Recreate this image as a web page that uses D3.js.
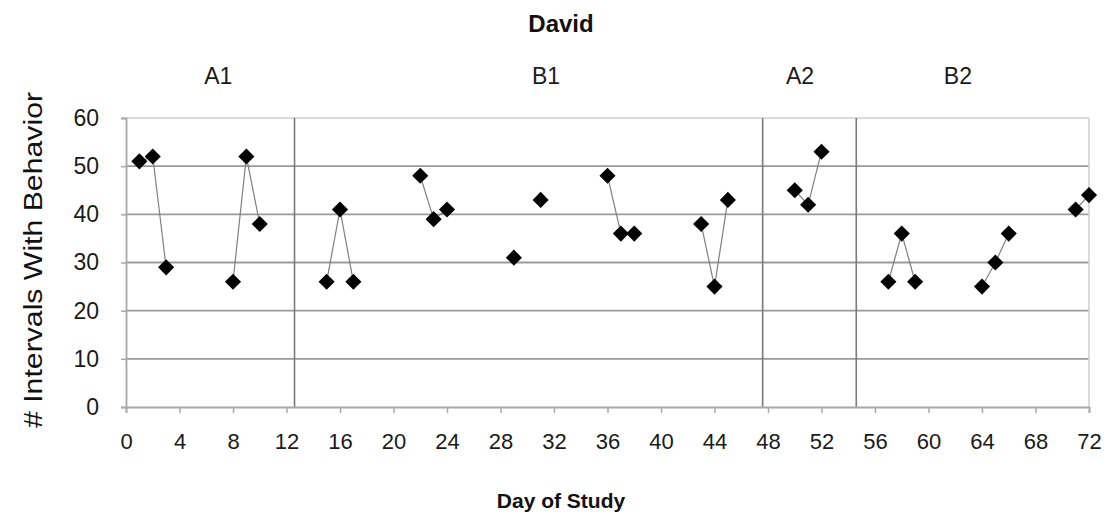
<!DOCTYPE html>
<html>
<head>
<meta charset="utf-8">
<script src="https://cdn.jsdelivr.net/npm/d3@7"></script>
<style>
  html, body { margin: 0; padding: 0; background: #fff; }
  svg { display: block; font-family: "Liberation Sans", Arial, sans-serif; }
</style>
</head>
<body>
<svg id="chart" width="1108" height="523"></svg>
<script>
// Observation days and the number of intervals with the behaviour on each day
const days   = [1, 2, 3, 8, 9, 10, 15, 16, 17, 22, 23, 24, 29, 31, 36, 37, 38, 43, 44, 45, 50, 51, 52, 57, 58, 59, 64, 65, 66, 71, 72];
const counts = [51, 52, 29, 26, 52, 38, 26, 41, 26, 48, 39, 41, 31, 43, 48, 36, 36, 38, 25, 43, 45, 42, 53, 26, 36, 26, 25, 30, 36, 41, 44];

// Phase change lines (between sessions) and phase names
const phaseChanges = [12.6, 47.6, 54.6];
const phaseNames   = ["A1", "B1", "A2", "B2"];
const phaseLabelDays = [6.9, 31.4, 50.4, 62.2];

const xTicks = d3.range(0, 73, 4);
const yTicks = d3.range(0, 61, 10);

const svg = d3.select("#chart");
const margin = { left: 126, right: 19, top: 118, bottom: 116 };
const W = 1108, H = 523;

const x = d3.scaleLinear().domain([0, 72]).range([margin.left, W - margin.right]);
const y = d3.scaleLinear().domain([0, 60]).range([H - margin.bottom, margin.top]);

// Horizontal gridlines
svg.append("g")
  .selectAll("line")
  .data(yTicks.filter(d => d > 0))
  .join("line")
  .attr("x1", x(0)).attr("x2", x(72))
  .attr("y1", d => y(d)).attr("y2", d => y(d))
  .attr("stroke", d => d === 60 ? "#cfcfcf" : "#9a9a9a")
  .attr("stroke-width", d => d === 60 ? 1.5 : 1.8);

// Right border of the plot area
svg.append("line")
  .attr("x1", x(72)).attr("x2", x(72))
  .attr("y1", y(60)).attr("y2", y(0))
  .attr("stroke", "#cfcfcf").attr("stroke-width", 1.5);

// Phase change lines
svg.append("g")
  .selectAll("line")
  .data(phaseChanges)
  .join("line")
  .attr("x1", d => x(d)).attr("x2", d => x(d))
  .attr("y1", y(60)).attr("y2", y(0))
  .attr("stroke", "#7a7a7a").attr("stroke-width", 1.6);

// Axes
const xAxis = svg.append("g")
  .attr("transform", `translate(0,${y(0)})`)
  .call(d3.axisBottom(x).tickValues(xTicks).tickSize(6).tickPadding(20).tickFormat(d3.format("d")));
xAxis.select(".domain").attr("stroke", "#a8a8a8").attr("stroke-width", 1.8);
xAxis.selectAll(".tick line").attr("stroke", "#a8a8a8").attr("stroke-width", 1.5);
xAxis.selectAll(".tick text")
  .attr("font-size", 22).attr("fill", "#1a1a1a")
  .attr("font-family", "'Liberation Sans', Arial, sans-serif");

const yAxis = svg.append("g")
  .attr("transform", `translate(${x(0)},0)`)
  .call(d3.axisLeft(y).tickValues(yTicks).tickSize(5).tickPadding(22).tickFormat(d3.format("d")));
yAxis.select(".domain").attr("stroke", "#a8a8a8").attr("stroke-width", 1.8);
yAxis.selectAll(".tick line").attr("stroke", "#a8a8a8").attr("stroke-width", 1.5);
yAxis.selectAll(".tick text")
  .attr("font-size", 23).attr("fill", "#1a1a1a")
  .attr("font-family", "'Liberation Sans', Arial, sans-serif");

// Connect consecutive days that fall within the same phase
const pts = days.map((d, i) => ({ day: d, count: counts[i] }));
const phaseOf = d => phaseChanges.filter(p => d > p).length;
const segments = [];
for (let i = 1; i < pts.length; i++) {
  const a = pts[i - 1], b = pts[i];
  if (b.day - a.day === 1 && phaseOf(a.day) === phaseOf(b.day)) segments.push([a, b]);
}
svg.append("g")
  .selectAll("line")
  .data(segments)
  .join("line")
  .attr("x1", d => x(d[0].day)).attr("y1", d => y(d[0].count))
  .attr("x2", d => x(d[1].day)).attr("y2", d => y(d[1].count))
  .attr("stroke", "#808080").attr("stroke-width", 1.2);

// Diamond markers
svg.append("g")
  .selectAll("path")
  .data(pts)
  .join("path")
  .attr("d", d3.symbol(d3.symbolSquare, 130))
  .attr("transform", d => `translate(${x(d.day)},${y(d.count)}) rotate(45)`)
  .attr("fill", "#000");

// Titles
svg.append("text")
  .attr("x", 561).attr("y", 32)
  .attr("text-anchor", "middle")
  .attr("font-size", 24).attr("font-weight", "bold").attr("fill", "#111")
  .text("David");

svg.append("g")
  .selectAll("text")
  .data(phaseNames)
  .join("text")
  .attr("x", (d, i) => x(phaseLabelDays[i]))
  .attr("y", 84)
  .attr("text-anchor", "middle")
  .attr("font-size", 23).attr("fill", "#1a1a1a")
  .text(d => d);

svg.append("text")
  .attr("x", 561).attr("y", 508)
  .attr("text-anchor", "middle")
  .attr("font-size", 21).attr("font-weight", "bold").attr("fill", "#111")
  .text("Day of Study");

svg.append("text")
  .attr("transform", "translate(42,260) rotate(-90)")
  .attr("text-anchor", "middle")
  .attr("font-size", 25).attr("fill", "#111")
  .attr("textLength", 336).attr("lengthAdjust", "spacingAndGlyphs")
  .text("# Intervals With Behavior");
</script>
</body>
</html>
